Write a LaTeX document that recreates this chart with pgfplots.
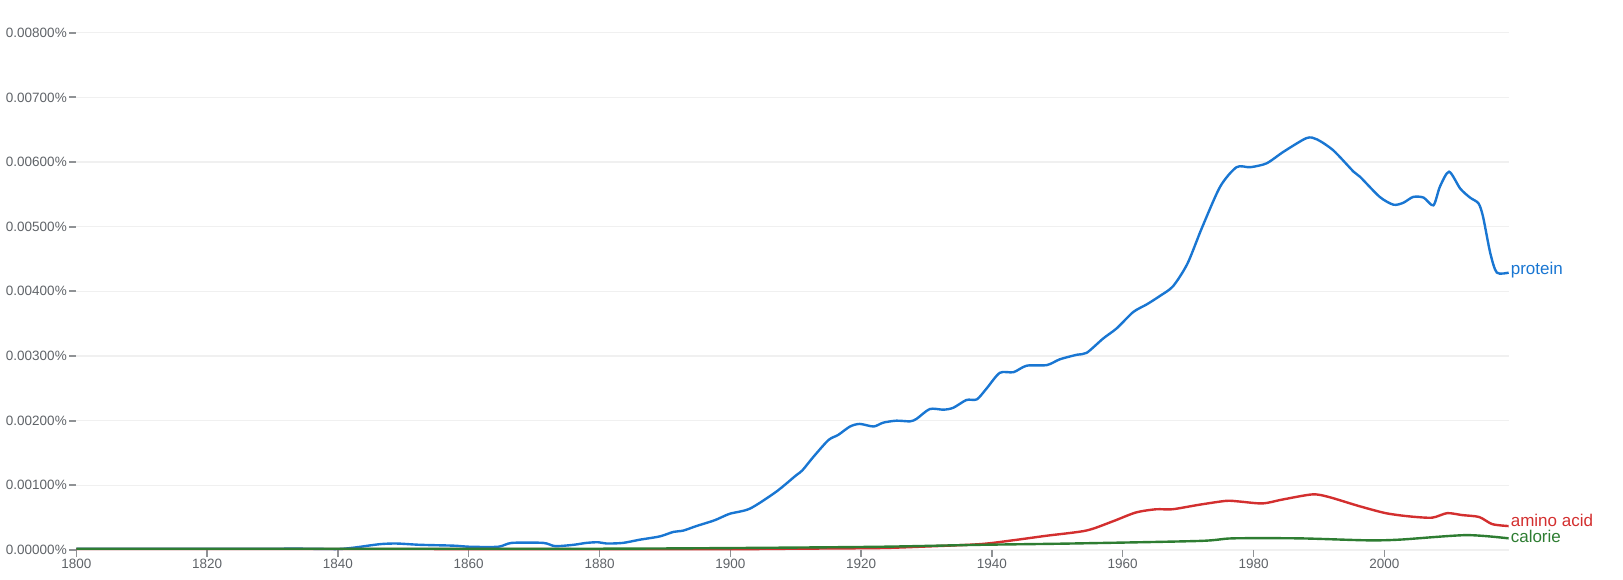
\documentclass[border=0pt]{standalone}
\usepackage{pgfplots}
\pgfplotsset{compat=1.18}
\usepackage{fontspec}
\setmainfont{Liberation Sans}
\definecolor{pblue}{HTML}{1976D2}
\definecolor{ared}{HTML}{D32F2F}
\definecolor{cgreen}{HTML}{2E7D32}
\definecolor{tickgray}{HTML}{5F6368}
\definecolor{gridgray}{HTML}{F0F0F0}
\begin{document}
\begin{tikzpicture}
\begin{axis}[
  at={(0,0)}, anchor=south west,
  scale only axis,
  width=1432.3pt, height=517.3pt,
  xmin=1800, xmax=2019, ymin=0, ymax=8,
  clip=false,
  axis x line=bottom, axis y line=left,
  axis line style={draw=none, -},
  tick align=outside,
  xtick={1800,1820,1840,1860,1880,1900,1920,1940,1960,1980,2000},
  xticklabels={1800,1820,1840,1860,1880,1900,1920,1940,1960,1980,2000},
  ytick={0,1,2,3,4,5,6,7,8},
  yticklabels={0.00000\%,0.00100\%,0.00200\%,0.00300\%,0.00400\%,0.00500\%,0.00600\%,0.00700\%,0.00800\%},
  /pgf/number format/assume math mode=true,
  x tick style={draw=tickgray!70, line width=1.5pt},
  y tick style={draw=tickgray!70, line width=1.8pt},
  major tick length=7pt,
  minor tick num=0,
  ymajorgrids, grid style={draw=gridgray, line width=1.2pt},
  ticklabel style={font=\fontsize{13.5}{15}\selectfont, text=tickgray},
  xticklabel style={yshift=1pt},
  yticklabel style={xshift=1pt},
  every axis plot/.append style={line width=2.4pt, smooth, tension=0.45, no markers},
]
\addplot[pblue] coordinates {
(1800,0.02)(1810,0.02)(1820,0.02)(1830,0.02)(1835,0.02)(1840,0.015)
(1842.4,0.036)(1846.4,0.09)(1849,0.10)(1852.6,0.08)(1857.7,0.067)(1860.2,0.05)
(1864.5,0.05)(1866.6,0.11)(1871.4,0.11)(1873.2,0.06)(1876,0.08)(1878,0.11)
(1879.8,0.12)(1881.1,0.10)(1883.6,0.11)(1886.2,0.16)(1889.2,0.21)(1891.3,0.28)
(1892.8,0.30)(1894.8,0.37)(1897.6,0.46)(1899.9,0.56)(1903,0.64)(1907,0.90)
(1910,1.15)(1911,1.23)(1912.7,1.44)(1915,1.70)(1916.5,1.78)(1918.3,1.91)
(1919.8,1.95)(1921.9,1.91)(1923.4,1.97)(1925.4,2.00)(1927.5,1.99)(1928.5,2.03)
(1930.5,2.18)(1932.6,2.17)(1934.1,2.20)(1936.1,2.32)(1937.7,2.33)(1939.2,2.50)
(1941.2,2.74)(1943.3,2.75)(1945.3,2.85)(1948.4,2.86)(1950.4,2.95)(1953.0,3.02)
(1954.5,3.05)(1957.0,3.27)(1959.1,3.43)(1961.6,3.68)(1963.7,3.80)(1965.7,3.93)
(1967.7,4.08)(1969.9,4.43)(1972.1,4.98)(1974.9,5.62)(1977.4,5.92)(1979.5,5.92)
(1982.0,5.98)(1984.6,6.16)(1988.1,6.37)(1989.7,6.35)(1992.2,6.18)(1995.3,5.85)
(1996.3,5.77)(1999.3,5.46)(2001.4,5.34)(2002.9,5.37)(2004.4,5.46)(2006.0,5.45)
(2007.5,5.33)(2008.5,5.62)(2009.9,5.85)(2011.6,5.59)(2013.1,5.45)(2014.4,5.36)
(2015.1,5.15)(2016.2,4.59)(2017.2,4.29)(2019,4.29)
};
\addplot[ared] coordinates {
(1800,0.015)(1850,0.015)(1880,0.012)(1900,0.012)(1910,0.02)(1922.8,0.03)(1928.9,0.05)
(1938.1,0.09)(1943.2,0.15)(1948.3,0.22)(1954.4,0.30)(1958.4,0.44)(1962,0.58)
(1965.1,0.63)(1967.6,0.63)(1971.7,0.70)(1975.8,0.76)(1977.8,0.75)(1981.4,0.72)
(1984.4,0.78)(1989,0.86)(1991.5,0.82)(1996.1,0.68)(2000.2,0.57)(2003.8,0.52)
(2007.3,0.50)(2009.6,0.57)(2011.9,0.54)(2014.5,0.51)(2016.5,0.40)(2019,0.37)
};
\addplot[cgreen] coordinates {
(1800,0.02)(1850,0.02)(1880,0.02)(1900,0.03)(1922.8,0.05)(1938,0.08)
(1952,0.10)(1971.7,0.14)(1976.8,0.18)(1987,0.18)(1997.2,0.15)(2002.3,0.16)
(2012.5,0.23)(2019,0.18)
};
\node[anchor=west, inner sep=2pt, text=pblue, font=\fontsize{17}{19}\selectfont] at (axis cs:2019,4.33) {protein};
\node[anchor=west, inner sep=2pt, text=ared, font=\fontsize{17}{19}\selectfont] at (axis cs:2019,0.45) {amino acid};
\node[anchor=west, inner sep=2pt, text=cgreen, font=\fontsize{17}{19}\selectfont] at (axis cs:2019,0.205) {calorie};
\end{axis}
\pgfresetboundingbox
\path (-76.3pt,-29pt) rectangle (1546.7pt,550pt);
\end{tikzpicture}
\end{document}
